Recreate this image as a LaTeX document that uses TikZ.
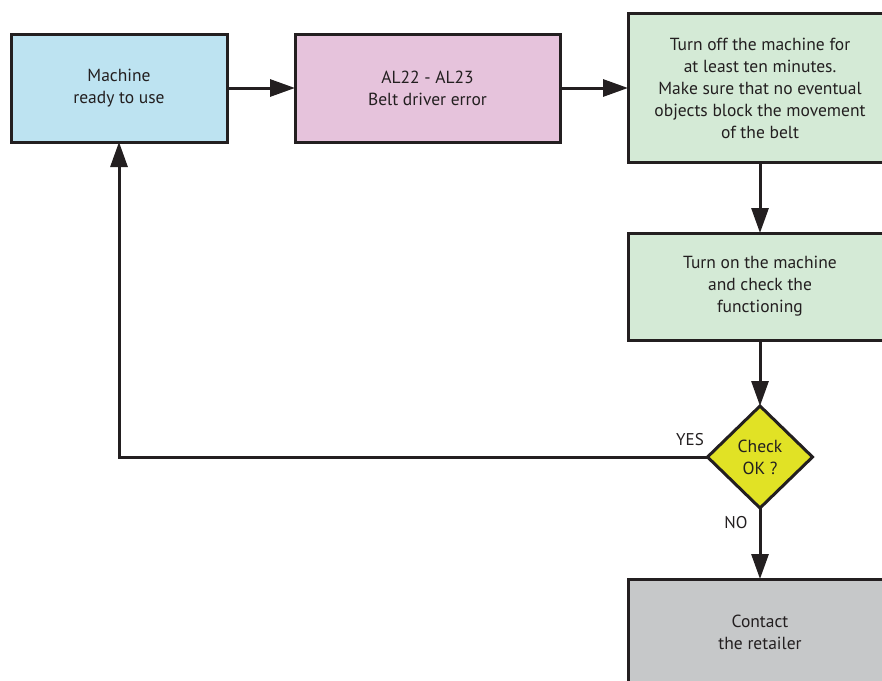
\documentclass[tikz,border=0pt]{standalone}
\usepackage{fontspec}
\setmainfont{PT Sans}
\usetikzlibrary{arrows.meta,shapes.geometric}
\definecolor{bord}{HTML}{231F20}
\definecolor{cblue}{HTML}{BDE3F1}
\definecolor{cpink}{HTML}{E6C3DC}
\definecolor{cgreen}{HTML}{D4EAD6}
\definecolor{cyellow}{HTML}{E1E225}
\definecolor{cgray}{HTML}{C6C8C9}
\tikzset{
  box/.style={draw=bord, line width=3pt, rectangle, outer sep=0pt, inner sep=0pt, align=center, font=\fontsize{17.5}{22}\selectfont, text=bord},
  dia/.style={draw=bord, line width=3pt, diamond, outer sep=0pt, inner sep=0pt, align=center, font=\fontsize{17.5}{22}\selectfont, text=bord, minimum width=105pt, minimum height=102pt, fill=cyellow},
  conn/.style={draw=bord, line width=3pt, -{Triangle[length=25pt,width=17pt]}},
  lbl/.style={font=\fontsize{17}{20}\selectfont, text=bord, inner sep=0pt}
}
\begin{document}
\begin{tikzpicture}[x=1pt,y=-1pt]
\useasboundingbox (0,0) rectangle (882,680);
\clip (0,0) rectangle (882,680);
\node[box, fill=cblue, minimum width=216pt, minimum height=108pt] (m) at (119,88) {Machine\\ready to use};
\node[box, fill=cpink, minimum width=265pt, minimum height=108pt] (e) at (427.5,88) {AL22 - AL23\\Belt driver error};
\node[box, fill=cgreen, minimum width=264pt, minimum height=149pt] (off) at (760,88) {Turn off the machine for\\at least ten minutes.\\Make sure that no eventual\\objects block the movement\\of the belt};
\node[box, fill=cgreen, minimum width=264pt, minimum height=107pt] (on) at (760,286.5) {Turn on the machine\\and check the\\functioning};
\node[dia] (chk) at (760,457) {Check\\OK ?};
\node[box, fill=cgray, minimum width=264pt, minimum height=106pt] (ret) at (760,632) {Contact\\the retailer};
\draw[conn] (m.east) -- (e.west);
\draw[conn] (e.east) -- (off.west |- e.east);
\draw[conn] (off.south) -- (on.north);
\draw[conn] (on.south) -- (chk.north);
\draw[conn] (chk.south) -- (ret.north);
\draw[conn] (chk.west) -| (m.south);
\node[lbl] (yes) at (690,440) {YES};
\node[lbl] (no) at (736,523) {NO};
\end{tikzpicture}
\end{document}
